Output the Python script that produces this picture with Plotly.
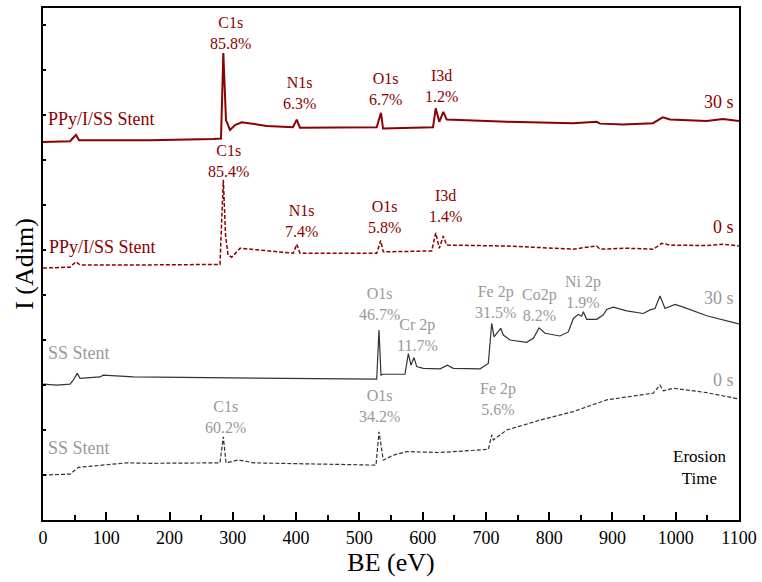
import plotly.graph_objects as go

# ---- data (BE in eV, intensity in arbitrary stacked units) ----
ppy30_be = [0, 42.7, 47.4, 52.2, 56.9, 169, 268.7, 281.3, 285, 289.2, 295.6, 303.5, 314, 353.6, 395, 401, 406,
            527.4, 534.2, 537.4, 616.4, 620.7, 626.3, 632.7, 638, 733, 837.7, 875, 880.3, 916.7, 964, 979.4, 991,
            1049, 1074.7, 1100]
ppy30_i = [8.40, 8.42, 8.49, 8.56, 8.44, 8.44, 8.47, 8.48, 10.38, 8.89, 8.67, 8.78, 8.84, 8.76, 8.73, 8.90, 8.72,
           8.73, 9.05, 8.70, 8.73, 9.15, 8.85, 9.07, 8.90, 8.85, 8.82, 8.85, 8.81, 8.79, 8.82, 8.95, 8.90,
           8.87, 8.91, 8.87]

ppy0_be = [0, 42.7, 52.2, 58.5, 169, 279.7, 285, 288.5, 292.4, 298.2, 311.4, 353.6, 395.6, 401, 406.2, 527.4,
           533.7, 537.8, 614.3, 620.7, 626.3, 632.7, 638, 733, 837.7, 875, 880.3, 922.5, 964.6, 977.9, 991,
           1049, 1075.2, 1100]
ppy0_i = [5.60, 5.62, 5.74, 5.67, 5.67, 5.68, 7.56, 6.33, 5.89, 5.84, 6.04, 5.98, 5.93, 6.13, 5.93, 5.93,
          6.21, 5.96, 5.98, 6.38, 6.04, 6.31, 6.11, 6.09, 6.02, 6.09, 6.02, 6.04, 6.02, 6.15, 6.11,
          6.10, 6.13, 6.09]

ss30_be = [0, 21.7, 42.7, 47.9, 54.2, 58.5, 90.1, 95.3, 142.7, 232.3, 458.8, 527.4, 531, 534.2, 537.8, 572.1,
           577.4, 581.6, 586.4, 590.6, 601.1, 627.5, 639, 648.5, 690.7, 703.8, 709.2, 712.8, 717.1, 723.4, 727.5,
           738.1, 764.5, 775, 784, 793.4, 817.1, 830.2, 838.2, 846.1, 851.4, 854, 859.3, 875.1, 885.5, 890.9,
           901.3, 922.5, 948.8, 959.4, 967.3, 975.1, 983.1, 998.9, 1012, 1049, 1096.4, 1100]
ss30_i = [3.02, 3.00, 3.02, 3.11, 3.26, 3.15, 3.18, 3.22, 3.18, 3.17, 3.13, 3.13, 4.22, 3.22, 3.24, 3.24,
          3.70, 3.44, 3.61, 3.41, 3.37, 3.36, 3.44, 3.37, 3.36, 3.48, 4.37, 4.07, 4.15, 4.26, 4.11,
          4.00, 3.95, 4.04, 4.27, 4.15, 4.09, 4.18, 4.48, 4.57, 4.53, 4.63, 4.46, 4.46, 4.56, 4.68,
          4.73, 4.65, 4.59, 4.67, 4.70, 4.98, 4.70, 4.79, 4.73, 4.54, 4.37, 4.36]

ss0_be = [0, 42.7, 55.8, 90.1, 132.3, 169.1, 279.7, 285, 289.2, 307.7, 319.3, 332.4, 458.8, 526.3, 531, 537.8,
          553.6, 574.8, 627.5, 703.8, 709.2, 711.7, 732.9, 785.5, 838.2, 891, 964.6, 975.1, 980.4, 996.2,
          1049, 1096.4, 1100]
ss0_i = [1.00, 1.02, 1.17, 1.22, 1.27, 1.26, 1.27, 1.85, 1.27, 1.33, 1.31, 1.27, 1.24, 1.22, 1.96, 1.33,
         1.44, 1.52, 1.50, 1.57, 1.89, 1.78, 2.00, 2.22, 2.41, 2.67, 2.82, 3.00, 2.87, 2.93,
         2.83, 2.70, 2.69]

x_ticks = [0, 100, 200, 300, 400, 500, 600, 700, 800, 900, 1000, 1100]

# peak labels: (text, BE, y)
ppy30_labels = [("C1s<br>85.8%", 296.6, 10.83), ("N1s<br>6.3%", 405, 9.50),
                ("O1s<br>6.7%", 541.6, 9.58), ("I3d<br>1.2%", 630, 9.64)]
ppy0_labels = [("C1s<br>85.4%", 292.9, 7.98), ("N1s<br>7.4%", 408.9, 6.64),
               ("O1s<br>5.8%", 540.5, 6.73), ("I3d<br>1.4%", 635.4, 6.99)]
ss30_labels = [("O1s<br>46.7%", 532.6, 4.79), ("Cr 2p<br>11.7%", 591.6, 4.12),
               ("Fe 2p<br>31.5%", 715.5, 4.85), ("Co2p<br>8.2%", 784.4, 4.77),
               ("Ni 2p<br>1.9%", 854, 5.07)]
ss0_labels = [("C1s<br>60.2%", 289.2, 2.30), ("O1s<br>34.2%", 532.6, 2.53),
              ("Fe 2p<br>5.6%", 719.6, 2.70)]

RED = "#8b0000"
GRAY = "#999999"
FONT = "'Times New Roman', 'Liberation Serif', Times, serif"

fig = go.Figure()
fig.add_trace(go.Scatter(x=ppy30_be, y=ppy30_i, mode="lines", line=dict(color=RED, width=2)))
fig.add_trace(go.Scatter(x=ppy0_be, y=ppy0_i, mode="lines", line=dict(color=RED, width=1.5, dash="4px,2px")))
fig.add_trace(go.Scatter(x=ss30_be, y=ss30_i, mode="lines", line=dict(color="#333333", width=1.2)))
fig.add_trace(go.Scatter(x=ss0_be, y=ss0_i, mode="lines", line=dict(color="#333333", width=1.2, dash="4px,2px")))

ann = []
for labels, col in [(ppy30_labels, RED), (ppy0_labels, RED), (ss30_labels, GRAY), (ss0_labels, GRAY)]:
    for t, x, y in labels:
        ann.append(dict(text=t, x=x, y=y, showarrow=False, font=dict(color=col, size=16, family=FONT)))

side = [("PPy/I/SS Stent", 4, 8.91, RED, "left"), ("PPy/I/SS Stent", 6, 6.06, RED, "left"),
        ("SS Stent", 4, 3.72, GRAY, "left"), ("SS Stent", 4, 1.59, GRAY, "left"),
        ("30 s", 1096, 9.30, RED, "right"), ("0 s", 1096, 6.52, RED, "right"),
        ("30 s", 1096, 4.93, GRAY, "right"), ("0 s", 1096, 3.11, GRAY, "right")]
for t, x, y, col, anc in side:
    ann.append(dict(text=t, x=x, y=y, xanchor=anc, showarrow=False, font=dict(color=col, size=18, family=FONT)))
ann.append(dict(text="Erosion<br>Time", x=1038, y=1.16, showarrow=False,
                font=dict(color="black", size=17, family=FONT)))

fig.update_layout(
    width=762, height=582, margin=dict(l=43, r=23, t=8, b=62),
    paper_bgcolor="white", plot_bgcolor="white", showlegend=False,
    font=dict(family=FONT, color="black"),
    annotations=ann,
    xaxis=dict(range=[0, 1100], tickvals=x_ticks, ticks="inside", ticklen=8, tickwidth=1.5, tickcolor="black",
               minor=dict(dtick=50, ticks="inside", ticklen=5, tickwidth=1.5, tickcolor="black"),
               showline=True, linecolor="black", linewidth=2, mirror=True, showgrid=False, zeroline=False,
               tickfont=dict(size=18, family=FONT),
               title=dict(text="BE (eV)", font=dict(size=26, family=FONT), standoff=6), automargin=False),
    yaxis=dict(range=[0, 11.38], dtick=1, tick0=0, ticks="inside", ticklen=3, tickwidth=1.5, tickcolor="black",
               showticklabels=False, showline=True, linecolor="black", linewidth=2, mirror=True,
               showgrid=False, zeroline=False,
               title=dict(text="I (Adim)", font=dict(size=26, family=FONT), standoff=0), automargin=False),
)

fig.write_html("out.html")
